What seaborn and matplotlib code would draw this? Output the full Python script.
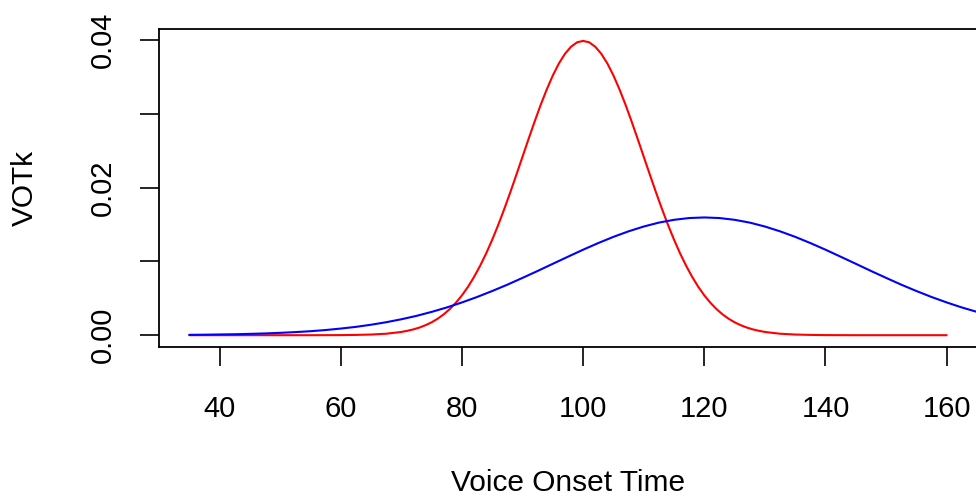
import numpy as np
import pandas as pd
import matplotlib
matplotlib.use('Agg')
import matplotlib.pyplot as plt
import seaborn as sns

# Voice onset time densities
vot_red = [35, 37.5, 40, 42.5, 45, 47.5, 50, 52.5, 55, 57.5, 60, 62.5, 65, 67.5,
           70, 71, 72, 73, 74, 75, 76, 77, 78, 79, 80, 81, 82, 83, 84, 85, 86,
           87, 88, 89, 90, 91, 92, 93, 94, 95, 96, 97, 98, 99, 100, 101, 102,
           103, 104, 105, 106, 107, 108, 109, 110, 111, 112, 113, 114, 115,
           116, 117, 118, 119, 120, 121, 122, 123, 124, 125, 126, 127, 128,
           129, 130, 132.5, 135, 137.5, 140, 142.5, 145, 147.5, 150, 152.5,
           155, 157.5, 160]
dens_red = [0, 0, 0, 0, 0, 0, 0, 0, 0, 0.000005, 0.000013, 0.00004, 0.00009,
            0.00020,
            0.00044, 0.00060, 0.00079, 0.00104, 0.00136, 0.00175, 0.00224,
            0.00283, 0.00355, 0.00440, 0.00540, 0.00656, 0.00790, 0.00941,
            0.01109, 0.01295, 0.01497, 0.01714, 0.01942, 0.02179, 0.02420,
            0.02661, 0.02897, 0.03123, 0.03332, 0.03521, 0.03683, 0.03814,
            0.03910, 0.03970, 0.03989, 0.03970, 0.03910, 0.03814, 0.03683,
            0.03521, 0.03332, 0.03123, 0.02897, 0.02661, 0.02420, 0.02179,
            0.01942, 0.01714, 0.01497, 0.01295, 0.01109, 0.00941, 0.00790,
            0.00656, 0.00540, 0.00440, 0.00355, 0.00283, 0.00224, 0.00175,
            0.00136, 0.00104, 0.00079, 0.00060, 0.00044,
            0.00020, 0.00009, 0.00004, 0.000013, 0.000005, 0, 0, 0, 0, 0, 0, 0]

vot_blue = [35, 37.5, 40, 42.5, 45, 47.5, 50, 52.5, 55, 57.5, 60, 62.5, 65,
            67.5, 70, 72.5, 75, 77.5, 80, 82.5, 85, 87.5, 90, 92.5, 95, 97.5,
            100, 102.5, 105, 107.5, 110, 112.5, 115, 117.5, 120, 122.5, 125,
            127.5, 130, 132.5, 135, 137.5, 140, 142.5, 145, 147.5, 150, 152.5,
            155, 157.5, 160, 162.5, 165, 167.5, 170]
dens_blue = [0.00005, 0.00007, 0.00010, 0.00013, 0.00018, 0.00024, 0.00032,
             0.00042, 0.00054, 0.00070, 0.00090, 0.00113, 0.00142, 0.00176,
             0.00216, 0.00262, 0.00316, 0.00376, 0.00444, 0.00518, 0.00599,
             0.00685, 0.00777, 0.00871, 0.00968, 0.01064, 0.01159, 0.01249,
             0.01333, 0.01408, 0.01473, 0.01526, 0.01564, 0.01588, 0.01596,
             0.01588, 0.01564, 0.01526, 0.01473, 0.01408, 0.01333, 0.01249,
             0.01159, 0.01064, 0.00968, 0.00871, 0.00777, 0.00685, 0.00599,
             0.00518, 0.00444, 0.00376, 0.00316, 0.00262, 0.00216]

x_ticks = [40, 60, 80, 100, 120, 140, 160]
y_ticks = [0, 0.01, 0.02, 0.03, 0.04]
y_labels = ['0.00', '', '0.02', '', '0.04']

sns.set_style('white')
plt.rcParams['font.family'] = ['Liberation Sans', 'DejaVu Sans']
plt.rcParams['text.color'] = 'black'

df_red = pd.DataFrame({'VOT': vot_red, 'VOTk': dens_red})
df_blue = pd.DataFrame({'VOT': vot_blue, 'VOTk': dens_blue})

fig = plt.figure(figsize=(9.76, 4.97), dpi=100)
ax = fig.add_axes([0.1629, 0.3018, 0.8381, 0.6398])

sns.lineplot(data=df_red, x='VOT', y='VOTk', color='red', lw=1.5, sort=False, ax=ax)
sns.lineplot(data=df_blue, x='VOT', y='VOTk', color='blue', lw=1.5, sort=False, ax=ax)

ax.set_xlim(30, 165)
ax.set_ylim(-0.0016, 0.0415)
ax.set_xticks(x_ticks)
ax.set_xticklabels([str(t) for t in x_ticks])
ax.set_yticks(y_ticks)
ax.set_yticklabels(y_labels, rotation=90, va='center')
ax.tick_params(axis='both', direction='out', length=13.5, width=1.2,
               color='black', labelsize=21, labelcolor='black',
               bottom=True, left=True)
ax.tick_params(axis='x', pad=21)
ax.tick_params(axis='y', pad=17)
for s in ax.spines.values():
    s.set_color('black')
    s.set_linewidth(1.3)
ax.set_xlabel('')
ax.set_ylabel('')

fig.text(25 / 976, 1 - 188 / 497, 'VOTk', rotation=90, ha='center', va='center', fontsize=21.5)
fig.text(568 / 976, 1 - 483 / 497, 'Voice Onset Time', ha='center', va='center', fontsize=21.5)

fig.savefig('out.png', dpi=100)
